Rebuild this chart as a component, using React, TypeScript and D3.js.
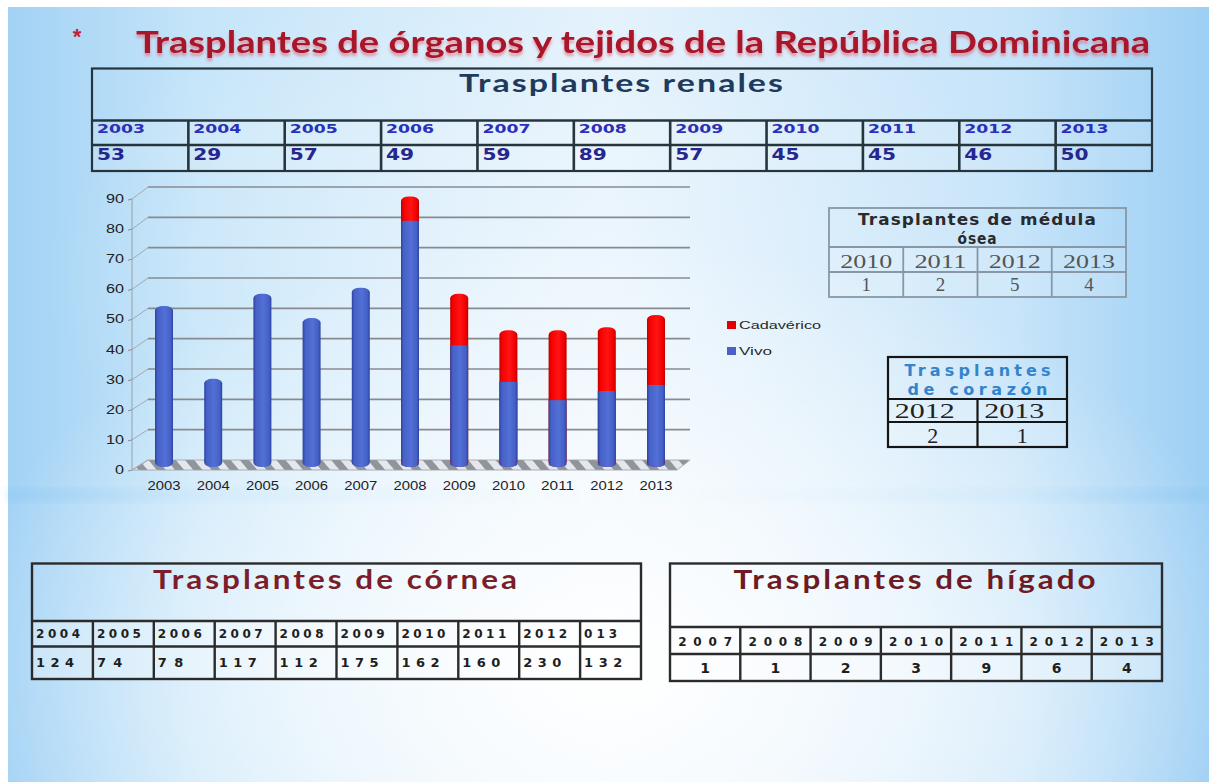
import React, { useEffect, useRef } from 'react';
import * as d3 from 'd3';

const WIDTH = 1209;
const HEIGHT = 782;

const pageTitle = 'Trasplantes de órganos y tejidos de la República Dominicana';

// kidney transplants: table + stacked chart
const renalYears = ['2003', '2004', '2005', '2006', '2007', '2008', '2009', '2010', '2011', '2012', '2013'];
const renalTotals = [53, 29, 57, 49, 59, 89, 57, 45, 45, 46, 50];
const vivo = [53, 29, 57, 49, 59, 81, 40, 28, 22, 25, 27];
const cadaverico = [0, 0, 0, 0, 0, 8, 17, 17, 23, 21, 23];
const yTicks = [0, 10, 20, 30, 40, 50, 60, 70, 80, 90];
const legendNames = ['Cadavérico', 'Vivo'];

const medulaYears = ['2010', '2011', '2012', '2013'];
const medulaValues = [1, 2, 5, 4];

const corazonYears = ['2012', '2013'];
const corazonValues = [2, 1];

const corneaYears = ['2004', '2005', '2006', '2007', '2008', '2009', '2010', '2011', '2012', '013'];
const corneaValues = [124, 74, 78, 117, 112, 175, 162, 160, 230, 132];

const higadoYears = ['2007', '2008', '2009', '2010', '2011', '2012', '2013'];
const higadoValues = [1, 1, 2, 3, 9, 6, 4];

const TITLE_FONT = "Lato, 'Liberation Sans', sans-serif";
const CELL_FONT = "'DejaVu Sans', Verdana, sans-serif";
const SERIF_FONT = "'Liberation Serif', 'DejaVu Serif', serif";
const CHART_FONT = "'Liberation Sans', Arial, sans-serif";

function drawBackground(svg, defs) {
    const base = defs.append('linearGradient').attr('id', 'bgBase')
        .attr('x1', 0).attr('x2', 1).attr('y1', 0).attr('y2', 0);
    [[0, '#a2d2f5'], [0.16, '#c6e5f9'], [0.5, '#e2f1fc'], [0.84, '#c6e4f9'], [1, '#9dcff4']]
        .forEach(([o, c]) => base.append('stop').attr('offset', o).attr('stop-color', c));

    const glow = defs.append('radialGradient').attr('id', 'bgGlow')
        .attr('cx', 0.5).attr('cy', 0.85).attr('r', 0.55);
    [[0, 1], [0.45, 0.65], [1, 0]]
        .forEach(([o, a]) => glow.append('stop').attr('offset', o).attr('stop-color', '#ffffff').attr('stop-opacity', a));

    const glowTop = defs.append('radialGradient').attr('id', 'bgGlowTop')
        .attr('cx', 0.45).attr('cy', 0.35).attr('r', 0.42);
    [[0, 0.4], [1, 0]]
        .forEach(([o, a]) => glowTop.append('stop').attr('offset', o).attr('stop-color', '#ffffff').attr('stop-opacity', a));

    const band = defs.append('linearGradient').attr('id', 'bgBand')
        .attr('x1', 0).attr('x2', 1).attr('y1', 0).attr('y2', 0);
    [[0, 0.3], [0.15, 0.08], [0.5, 0], [0.85, 0.08], [1, 0.3]]
        .forEach(([o, a]) => band.append('stop').attr('offset', o).attr('stop-color', '#7fbfee').attr('stop-opacity', a));
    defs.append('filter').attr('id', 'blur6')
        .append('feGaussianBlur').attr('stdDeviation', 5);

    svg.append('rect').attr('width', WIDTH).attr('height', HEIGHT).attr('fill', '#ffffff');
    svg.append('rect').attr('x', 8).attr('y', 7).attr('width', WIDTH - 8).attr('height', HEIGHT - 7).attr('fill', 'url(#bgBase)');
    svg.append('rect').attr('x', 8).attr('y', 7).attr('width', WIDTH - 8).attr('height', HEIGHT - 7).attr('fill', 'url(#bgGlowTop)');
    svg.append('rect').attr('x', 8).attr('y', 7).attr('width', WIDTH - 8).attr('height', HEIGHT - 7).attr('fill', 'url(#bgGlow)');
    svg.append('rect').attr('x', 8).attr('y', 488).attr('width', WIDTH - 8).attr('height', 14)
        .attr('fill', 'url(#bgBand)').attr('filter', 'url(#blur6)');
}

function drawTitle(svg, defs) {
    const f = defs.append('filter').attr('id', 'titleShadow')
        .attr('x', -0.05).attr('y', -0.3).attr('width', 1.1).attr('height', 1.8);
    f.append('feDropShadow').attr('dx', 0).attr('dy', 3).attr('stdDeviation', 1.6)
        .attr('flood-color', '#e0566a').attr('flood-opacity', 0.6);

    svg.append('text')
        .attr('x', 77).attr('y', 44)
        .attr('text-anchor', 'middle')
        .attr('font-family', CHART_FONT).attr('font-size', 22).attr('font-weight', 'bold')
        .attr('fill', '#c0203a')
        .text('*');

    svg.append('text')
        .attr('x', 136).attr('y', 53)
        .attr('font-family', TITLE_FONT).attr('font-size', 31).attr('font-weight', 'bold')
        .attr('fill', '#a8132a')
        .attr('textLength', 1014).attr('lengthAdjust', 'spacingAndGlyphs')
        .attr('filter', 'url(#titleShadow)')
        .text(pageTitle);
}

function drawTable(svg, o) {
    const g = svg.append('g');
    const x = d3.scaleBand().domain(o.years).range([o.x0, o.x1]);
    const bw = x.bandwidth();

    if (o.cellFill) {
        g.append('rect')
            .attr('x', o.x0).attr('y', o.titleBottom)
            .attr('width', o.x1 - o.x0).attr('height', o.bottom - o.titleBottom)
            .attr('fill', o.cellFill);
    }

    [o.titleBottom, o.yearBottom].forEach(yy => {
        g.append('line')
            .attr('x1', o.x0).attr('x2', o.x1).attr('y1', yy).attr('y2', yy)
            .attr('stroke', o.stroke).attr('stroke-width', o.innerWidth);
    });

    o.years.slice(1).forEach(yr => {
        g.append('line')
            .attr('x1', x(yr)).attr('x2', x(yr)).attr('y1', o.titleBottom).attr('y2', o.bottom)
            .attr('stroke', o.stroke).attr('stroke-width', o.innerWidth);
    });

    g.append('rect')
        .attr('x', o.x0).attr('y', o.top)
        .attr('width', o.x1 - o.x0).attr('height', o.bottom - o.top)
        .attr('fill', 'none').attr('stroke', o.stroke).attr('stroke-width', o.strokeWidth);

    o.titleLines.forEach(t => {
        const el = g.append('text')
            .attr('x', (o.x0 + o.x1) / 2).attr('y', t.y)
            .attr('text-anchor', 'middle')
            .attr('font-family', t.family).attr('font-size', t.size).attr('font-weight', t.weight || 'bold')
            .attr('letter-spacing', t.spacing || 0)
            .attr('fill', t.fill)
            .text(t.text);
        if (t.width) el.attr('textLength', t.width).attr('lengthAdjust', t.adjust || 'spacingAndGlyphs');
    });

    const cell = (label, key, y, f) => {
        const anchorX = f.align === 'start' ? x(key) + f.pad : x(key) + bw / 2 + (f.shift || 0);
        const el = g.append('text')
            .attr('x', anchorX).attr('y', y)
            .attr('text-anchor', f.align === 'start' ? 'start' : 'middle')
            .attr('font-family', f.family).attr('font-size', f.size)
            .attr('font-weight', f.weight || 'normal')
            .attr('fill', f.fill)
            .text(label);
        if (f.charW && label.length > 1) {
            el.attr('textLength', f.charW * label.length).attr('lengthAdjust', f.adjust || 'spacing');
        }
    };

    o.years.forEach((yr, i) => {
        cell(yr, yr, o.yearY, o.yearFont);
        cell(String(o.values[i]), yr, o.valueY, o.valueFont);
    });
}

function drawChart(svg, defs) {
    const xBar = d3.scalePoint().domain(renalYears).range([164, 656]);
    const yBar = d3.scaleLinear().domain([0, 90]).range([467, 193.5]);
    const yBack = d3.scaleLinear().domain([0, 90]).range([460, 187]);
    const yFront = d3.scaleLinear().domain([0, 90]).range([470, 199]);
    const backLeft = 148;
    const backRight = 690;
    const frontLeft = 132;
    const frontRight = 677;
    const barW = 18;

    const mkGrad = (id, stops) => {
        const gr = defs.append('linearGradient').attr('id', id)
            .attr('x1', 0).attr('x2', 1).attr('y1', 0).attr('y2', 0);
        stops.forEach(([o, c]) => gr.append('stop').attr('offset', o).attr('stop-color', c));
    };
    mkGrad('blueBar', [[0, '#2a42a0'], [0.14, '#4660c6'], [0.55, '#5270d6'], [0.86, '#4560c6'], [1, '#2c45a3']]);
    mkGrad('redBar', [[0, '#b80000'], [0.14, '#f60000'], [0.55, '#ff1414'], [0.86, '#f20000'], [1, '#bc0000']]);

    const hatch = defs.append('pattern').attr('id', 'floorHatch')
        .attr('patternUnits', 'userSpaceOnUse').attr('width', 14).attr('height', 14)
        .attr('patternTransform', 'rotate(-40)');
    hatch.append('rect').attr('width', 14).attr('height', 14).attr('fill', '#e4e8ec');
    hatch.append('rect').attr('width', 7).attr('height', 14).attr('fill', '#8f959b');

    const g = svg.append('g');

    // floor
    g.append('polygon')
        .attr('points', [[frontLeft, yFront(0)], [backLeft, yBack(0)], [backRight, yBack(0)], [frontRight, yFront(0)]]
            .map(p => p.join(',')).join(' '))
        .attr('fill', 'url(#floorHatch)')
        .attr('stroke', '#9aa0a6').attr('stroke-width', 0.8);

    // back wall gridlines
    yTicks.filter(v => v > 0).forEach(v => {
        g.append('line')
            .attr('x1', backLeft).attr('x2', backRight)
            .attr('y1', yBack(v)).attr('y2', yBack(v))
            .attr('stroke', '#878b90').attr('stroke-width', 1.6);
    });

    // value axis at the front left, ticks run to the back wall
    g.append('line')
        .attr('x1', frontLeft).attr('x2', frontLeft)
        .attr('y1', yFront(0)).attr('y2', yFront(90))
        .attr('stroke', '#9aa0a6').attr('stroke-width', 1);
    yTicks.forEach(v => {
        g.append('line')
            .attr('x1', frontLeft).attr('x2', backLeft)
            .attr('y1', yFront(v)).attr('y2', yBack(v))
            .attr('stroke', '#a4a9ae').attr('stroke-width', 1);
        g.append('line')
            .attr('x1', frontLeft - 4).attr('x2', frontLeft)
            .attr('y1', yFront(v) + 1).attr('y2', yFront(v))
            .attr('stroke', '#8a8f94').attr('stroke-width', 1);
        const label = String(v);
        g.append('text')
            .attr('x', 124).attr('y', yFront(v) + 4)
            .attr('text-anchor', 'end')
            .attr('font-family', CHART_FONT).attr('font-size', 12)
            .attr('fill', '#222')
            .attr('textLength', 9 * label.length).attr('lengthAdjust', 'spacingAndGlyphs')
            .text(label);
    });

    // stacked cylinders
    const rows = renalYears.map((yr, i) => ({ year: yr, vivo: vivo[i], cad: cadaverico[i] }));
    const stacked = d3.stack().keys(['vivo', 'cad'])(rows);
    const vivoSeries = stacked[0];
    const cadSeries = stacked[1];

    rows.forEach((r, i) => {
        const cx = xBar(r.year);
        const top = cadSeries[i][1];
        const topFill = r.cad > 0 ? 'url(#redBar)' : 'url(#blueBar)';
        g.append('rect')
            .attr('x', cx - barW / 2).attr('y', yBar(top))
            .attr('width', barW).attr('height', yBar(0) - yBar(top))
            .attr('rx', 8).attr('ry', 4.5)
            .attr('fill', topFill);
        if (r.cad > 0) {
            g.append('rect')
                .attr('x', cx - barW / 2).attr('y', yBar(vivoSeries[i][1]))
                .attr('width', barW).attr('height', yBar(0) - yBar(vivoSeries[i][1]) - 4.5)
                .attr('fill', 'url(#blueBar)');
            g.append('rect')
                .attr('x', cx - barW / 2).attr('y', yBar(0) - 6)
                .attr('width', barW).attr('height', 6)
                .attr('rx', 8).attr('ry', 4.5)
                .attr('fill', 'url(#blueBar)');
        }
    });

    // category labels
    renalYears.forEach(yr => {
        g.append('text')
            .attr('x', xBar(yr)).attr('y', 490)
            .attr('text-anchor', 'middle')
            .attr('font-family', CHART_FONT).attr('font-size', 12)
            .attr('fill', '#222')
            .attr('textLength', 33).attr('lengthAdjust', 'spacingAndGlyphs')
            .text(yr);
    });

    // legend
    const legendColors = ['#e00000', '#4a62c8'];
    const legendY = [325, 351];
    legendNames.forEach((name, i) => {
        g.append('rect')
            .attr('x', 727).attr('y', legendY[i] - 4)
            .attr('width', 9).attr('height', 8)
            .attr('fill', legendColors[i]);
        g.append('text')
            .attr('x', 739).attr('y', legendY[i] + 4)
            .attr('font-family', CHART_FONT).attr('font-size', 11)
            .attr('fill', '#2a2a2a')
            .attr('textLength', name.length > 4 ? 82 : 33).attr('lengthAdjust', 'spacingAndGlyphs')
            .text(name);
    });
}

function drawTables(svg) {
    drawTable(svg, {
        x0: 92, x1: 1152, top: 68.5, titleBottom: 120.5, yearBottom: 145, bottom: 171,
        stroke: '#26343c', strokeWidth: 2.2, innerWidth: 2.6, cellFill: 'rgba(255,255,255,0.1)',
        years: renalYears, values: renalTotals,
        titleLines: [{ text: 'Trasplantes renales', y: 92, size: 25, spacing: 1.5, family: TITLE_FONT, fill: '#1f3a5a', width: 326 }],
        yearY: 133, valueY: 160,
        yearFont: { family: CELL_FONT, size: 12.5, weight: 'bold', fill: '#2b30b8', charW: 12, align: 'start', pad: 5, adjust: 'spacingAndGlyphs' },
        valueFont: { family: CELL_FONT, size: 15, weight: 'bold', fill: '#26268e', charW: 14, align: 'start', pad: 5, adjust: 'spacingAndGlyphs' },
    });

    drawTable(svg, {
        x0: 829, x1: 1126, top: 208, titleBottom: 247, yearBottom: 272, bottom: 297,
        stroke: '#8797a6', strokeWidth: 1.8, innerWidth: 1.8, cellFill: 'rgba(255,255,255,0.15)',
        years: medulaYears, values: medulaValues,
        titleLines: [
            { text: 'Trasplantes de médula', y: 225, size: 15, spacing: 1, family: CELL_FONT, fill: '#2a2a2a', width: 239 },
            { text: 'ósea', y: 244, size: 15, spacing: 1, family: CELL_FONT, fill: '#2a2a2a', width: 40 },
        ],
        yearY: 267.5, valueY: 291,
        yearFont: { family: SERIF_FONT, size: 19, fill: '#555', charW: 13, adjust: 'spacingAndGlyphs', align: 'middle' },
        valueFont: { family: SERIF_FONT, size: 19, fill: '#555', align: 'middle' },
    });

    drawTable(svg, {
        x0: 888, x1: 1067, top: 357, titleBottom: 399, yearBottom: 422, bottom: 447,
        stroke: '#151515', strokeWidth: 2.2, innerWidth: 2.2, cellFill: 'rgba(255,255,255,0.15)',
        years: corazonYears, values: corazonValues,
        titleLines: [
            { text: 'Trasplantes', y: 376, size: 16, family: CELL_FONT, fill: '#3484cc', width: 146, adjust: 'spacing' },
            { text: 'de corazón', y: 395, size: 16, family: CELL_FONT, fill: '#3484cc', width: 140, adjust: 'spacing' },
        ],
        yearY: 418, valueY: 442.5,
        yearFont: { family: SERIF_FONT, size: 22, fill: '#222', charW: 15, adjust: 'spacingAndGlyphs', align: 'middle', shift: -8 },
        valueFont: { family: SERIF_FONT, size: 22, fill: '#222', align: 'middle' },
    });

    drawTable(svg, {
        x0: 32, x1: 641, top: 563.5, titleBottom: 621, yearBottom: 646.5, bottom: 679,
        stroke: '#2b2b2b', strokeWidth: 2.4, innerWidth: 2.4, cellFill: 'rgba(255,255,255,0.3)',
        years: corneaYears, values: corneaValues,
        titleLines: [{ text: 'Trasplantes de córnea', y: 589, size: 26, spacing: 2.5, family: TITLE_FONT, fill: '#7a1e2c', width: 367 }],
        yearY: 638, valueY: 666.5,
        yearFont: { family: CELL_FONT, size: 12, weight: 'bold', fill: '#1e1e1e', charW: 11, align: 'start', pad: 4 },
        valueFont: { family: CELL_FONT, size: 13, weight: 'bold', fill: '#1e1e1e', charW: 12.7, align: 'start', pad: 4 },
    });

    drawTable(svg, {
        x0: 670, x1: 1162, top: 563.5, titleBottom: 627, yearBottom: 654, bottom: 681,
        stroke: '#2b2b2b', strokeWidth: 2.4, innerWidth: 2.4, cellFill: 'rgba(255,255,255,0.3)',
        years: higadoYears, values: higadoValues,
        titleLines: [{ text: 'Trasplantes de hígado', y: 589, size: 26, spacing: 2.5, family: TITLE_FONT, fill: '#6e1a24', width: 365 }],
        yearY: 645.5, valueY: 672.5,
        yearFont: { family: CELL_FONT, size: 12, weight: 'bold', fill: '#1e1e1e', charW: 13.5, align: 'middle' },
        valueFont: { family: CELL_FONT, size: 14, weight: 'bold', fill: '#1e1e1e', align: 'middle' },
    });
}

export default function App() {
    const ref = useRef(null);

    useEffect(() => {
        const svg = d3.select(ref.current);
        svg.selectAll('*').remove();
        const defs = svg.append('defs');
        drawBackground(svg, defs);
        drawTitle(svg, defs);
        drawTables(svg);
        drawChart(svg, defs);
    }, []);

    return (
        <svg
            ref={ref}
            width={WIDTH}
            height={HEIGHT}
            style={{ position: 'absolute', left: 0, top: 0, display: 'block' }}
        />
    );
}
